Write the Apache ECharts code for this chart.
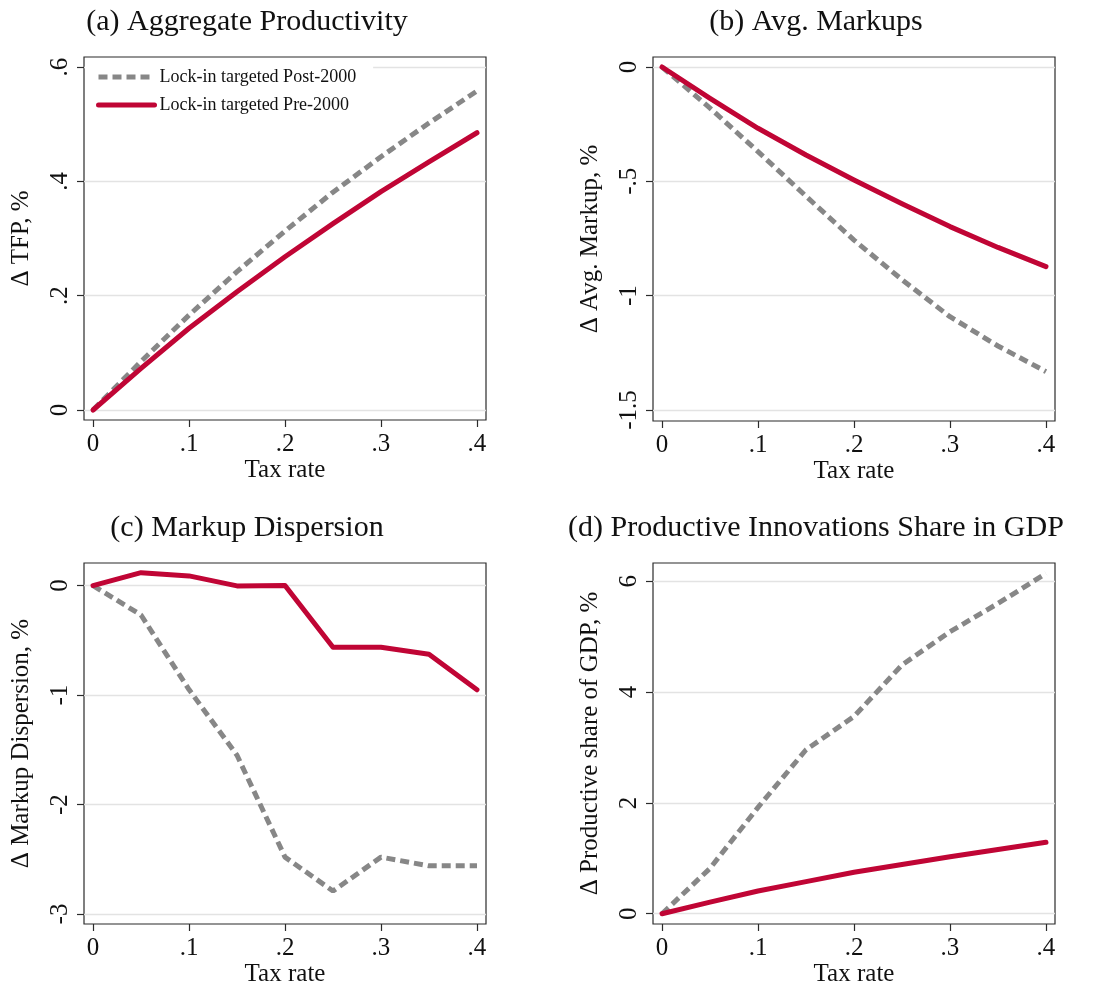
<!DOCTYPE html>
<html>
<head>
<meta charset="utf-8">
<title>Lock-in tax rate effects</title>
<script src="https://cdn.jsdelivr.net/npm/echarts@6/dist/echarts.min.js"></script>
<style>
  html, body { margin: 0; padding: 0; background: #fff; }
  #chart { width: 1106px; height: 988px; }
</style>
</head>
<body>
<div id="chart"></div>
<script>
// --- data (x = tax rate) ---
const taxRate = [0, 0.05, 0.1, 0.15, 0.2, 0.25, 0.3, 0.35, 0.4];

const tfpPost = [0, 0.085, 0.166, 0.242, 0.313, 0.381, 0.443, 0.502, 0.558];
const tfpPre  = [0, 0.073, 0.143, 0.207, 0.268, 0.326, 0.382, 0.434, 0.485];

const markupPost = [0, -0.18, -0.37, -0.565, -0.757, -0.93, -1.092, -1.22, -1.332];
const markupPre  = [0, -0.137, -0.268, -0.385, -0.494, -0.598, -0.698, -0.789, -0.873];

const dispPost = [0, -0.269, -0.95, -1.55, -2.48, -2.79, -2.48, -2.56, -2.56];
const dispPre  = [0, 0.118, 0.088, -0.003, 0, -0.564, -0.564, -0.627, -0.952];

const sharePost = [0, 0.82, 1.92, 2.96, 3.56, 4.49, 5.09, 5.6, 6.14];
const sharePre  = [0, 0.21, 0.41, 0.58, 0.75, 0.89, 1.03, 1.16, 1.29];

const xTicks = [0, 0.1, 0.2, 0.3, 0.4];
const yTicks = [
  [0, 0.2, 0.4, 0.6],
  [-1.5, -1, -0.5, 0],
  [-3, -2, -1, 0],
  [0, 2, 4, 6]
];

const panelTitles = [
  '(a) Aggregate Productivity',
  '(b) Avg. Markups',
  '(c) Markup Dispersion',
  '(d) Productive Innovations Share in GDP'
];
const yNames = [
  '\u0394 TFP, %',
  '\u0394 Avg. Markup, %',
  '\u0394 Markup Dispersion, %',
  '\u0394 Productive share of GDP, %'
];
const postName = 'Lock-in targeted Post-2000';
const preName = 'Lock-in targeted Pre-2000';

// --- layout / style ---
const FONT = 'Liberation Serif';
const RED = '#c00535';
const GREY = '#878787';
const grids = [
  { left: 84, top: 57, width: 402, height: 363 },
  { left: 653, top: 57, width: 402, height: 364 },
  { left: 84, top: 563, width: 402, height: 363 },
  { left: 653, top: 563, width: 402, height: 363 }
];
const xRange = [-0.0094, 0.4094];
const yRanges = [
  [-0.0175, 0.6175],
  [-1.548, 0.0437],
  [-3.091, 0.206],
  [-0.185, 6.33]
];
const titleCenters = [[247, 22], [816, 22], [247, 528], [816, 528]];

function fmt(v) {
  if (v === 0) return '0';
  return String(v).replace('0.', '.');
}

function pairs(ys) {
  return taxRate.map((x, i) => [x, ys[i]]);
}

const postData = [tfpPost, markupPost, dispPost, sharePost];
const preData = [tfpPre, markupPre, dispPre, sharePre];

const option = {
  backgroundColor: '#fff',
  animation: false,
  textStyle: { fontFamily: FONT },
  grid: grids.map(g => Object.assign({
    show: true,
    borderColor: '#2b2b2b',
    borderWidth: 1.2,
    backgroundColor: '#fff'
  }, g)),
  xAxis: grids.map((g, i) => ({
    type: 'value',
    gridIndex: i,
    min: xRange[0],
    max: xRange[1],
    name: 'Tax rate',
    nameLocation: 'middle',
    nameGap: 38,
    nameTextStyle: { fontFamily: FONT, fontSize: 25, color: '#111' },
    axisLine: { show: false, onZero: false },
    axisTick: {
      show: true, length: 7, customValues: xTicks,
      lineStyle: { color: '#2b2b2b', width: 1.2 }
    },
    axisLabel: {
      customValues: xTicks, formatter: fmt, margin: 12,
      fontFamily: FONT, fontSize: 25, color: '#111'
    },
    splitLine: { show: false }
  })),
  yAxis: grids.map((g, i) => ({
    type: 'value',
    gridIndex: i,
    min: yRanges[i][0],
    max: yRanges[i][1],
    name: yNames[i],
    nameLocation: 'middle',
    nameGap: 50,
    nameTextStyle: { fontFamily: FONT, fontSize: 25, color: '#111' },
    axisLine: { show: false, onZero: false },
    axisTick: {
      show: true, length: 7, customValues: yTicks[i],
      lineStyle: { color: '#2b2b2b', width: 1.2 }
    },
    axisLabel: {
      customValues: yTicks[i], formatter: fmt, rotate: 90, margin: 11,
      fontFamily: FONT, fontSize: 25, color: '#111'
    },
    splitLine: { show: true, lineStyle: { color: '#e3e3e3', width: 1.3 } }
  })),
  legend: {
    data: [postName, preName],
    orient: 'vertical',
    left: 85,
    top: 64,
    padding: [4, 17, 4, 11],
    itemWidth: 56,
    itemHeight: 14,
    itemGap: 10,
    backgroundColor: '#fff',
    itemStyle: { opacity: 0 },
    lineStyle: { width: 5 },
    textStyle: { fontFamily: FONT, fontSize: 18, color: '#111' }
  },
  graphic: panelTitles.map((t, i) => ({
    type: 'text',
    x: titleCenters[i][0],
    y: titleCenters[i][1],
    style: {
      text: t,
      font: '30px "' + FONT + '"',
      fill: '#111',
      textAlign: 'center',
      textVerticalAlign: 'middle'
    }
  })),
  series: []
};

for (let i = 0; i < 4; i++) {
  option.series.push({
    name: postName,
    type: 'line',
    xAxisIndex: i,
    yAxisIndex: i,
    data: pairs(postData[i]),
    symbol: 'none',
    lineStyle: { color: GREY, width: 5, type: [9, 5], cap: 'butt' },
    itemStyle: { color: GREY }
  });
  option.series.push({
    name: preName,
    type: 'line',
    xAxisIndex: i,
    yAxisIndex: i,
    data: pairs(preData[i]),
    symbol: 'none',
    lineStyle: { color: RED, width: 5, cap: 'round', join: 'round' },
    itemStyle: { color: RED }
  });
}

const chart = echarts.init(document.getElementById('chart'));
chart.setOption(option);
window.addEventListener('resize', () => chart.resize());
</script>
</body>
</html>
